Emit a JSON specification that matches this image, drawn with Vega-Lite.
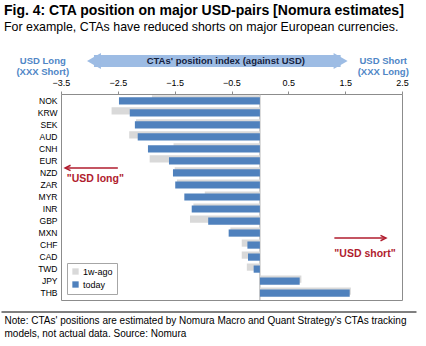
{
  "$schema": "https://vega.github.io/schema/vega-lite/v6.json",
  "padding": {"left": 0, "top": 3, "right": 5, "bottom": 0},
  "background": "white",
  "title": {
    "text": "Fig. 4: CTA position on major USD-pairs [Nomura estimates]",
    "subtitle": "For example, CTAs have reduced shorts on major European currencies.",
    "anchor": "start",
    "frame": "bounds",
    "dx": 3,
    "font": "Liberation Sans",
    "fontSize": 14,
    "fontWeight": "bold",
    "color": "#000000",
    "subtitleFont": "Liberation Sans",
    "subtitleFontSize": 12.4,
    "subtitleColor": "#000000",
    "subtitlePadding": 3,
    "offset": 18
  },
  "spacing": 0,
  "resolve": {"legend": {"color": "independent"}},
  "config": {"view": {"stroke": null}, "concat": {"spacing": 0}},
  "datasets": {
    "positions": [
      {"ccy": "NOK", "series": "1w-ago", "value": -1.90},
      {"ccy": "NOK", "series": "today", "value": -2.48},
      {"ccy": "KRW", "series": "1w-ago", "value": -2.61},
      {"ccy": "KRW", "series": "today", "value": -2.29},
      {"ccy": "SEK", "series": "1w-ago", "value": -2.18},
      {"ccy": "SEK", "series": "today", "value": -2.20},
      {"ccy": "AUD", "series": "1w-ago", "value": -2.30},
      {"ccy": "AUD", "series": "today", "value": -2.15},
      {"ccy": "CNH", "series": "1w-ago", "value": -1.52},
      {"ccy": "CNH", "series": "today", "value": -1.97},
      {"ccy": "EUR", "series": "1w-ago", "value": -1.94},
      {"ccy": "EUR", "series": "today", "value": -1.60},
      {"ccy": "NZD", "series": "1w-ago", "value": -1.50},
      {"ccy": "NZD", "series": "today", "value": -1.53},
      {"ccy": "ZAR", "series": "1w-ago", "value": -1.46},
      {"ccy": "ZAR", "series": "today", "value": -1.49},
      {"ccy": "MYR", "series": "1w-ago", "value": -0.97},
      {"ccy": "MYR", "series": "today", "value": -1.33},
      {"ccy": "INR", "series": "1w-ago", "value": -1.17},
      {"ccy": "INR", "series": "today", "value": -1.20},
      {"ccy": "GBP", "series": "1w-ago", "value": -1.23},
      {"ccy": "GBP", "series": "today", "value": -0.91},
      {"ccy": "MXN", "series": "1w-ago", "value": -0.52},
      {"ccy": "MXN", "series": "today", "value": -0.55},
      {"ccy": "CHF", "series": "1w-ago", "value": -0.32},
      {"ccy": "CHF", "series": "today", "value": -0.22},
      {"ccy": "CAD", "series": "1w-ago", "value": -0.32},
      {"ccy": "CAD", "series": "today", "value": -0.21},
      {"ccy": "TWD", "series": "1w-ago", "value": -0.23},
      {"ccy": "TWD", "series": "today", "value": -0.11},
      {"ccy": "JPY", "series": "1w-ago", "value": 0.73},
      {"ccy": "JPY", "series": "today", "value": 0.70},
      {"ccy": "THB", "series": "1w-ago", "value": 1.60},
      {"ccy": "THB", "series": "today", "value": 1.58}
    ]
  },
  "vconcat": [
    {
      "width": 341,
      "height": 20,
      "layer": [
        {
          "data": {"values": [{"value": -2.92, "value2": 1.42}]},
          "mark": {"type": "rule", "color": "#9dbce4", "strokeWidth": 12},
          "encoding": {
            "x": {"field": "value", "type": "quantitative", "title": null, "axis": null,
                  "scale": {"domain": [-3.5, 2.5], "nice": false, "zero": false}},
            "x2": {"field": "value2"}
          }
        },
        {
          "data": {"values": [{"value": -2.92}]},
          "mark": {"type": "point", "shape": "triangle-left", "filled": true, "color": "#9dbce4", "size": 260, "opacity": 1},
          "encoding": {"x": {"field": "value", "type": "quantitative", "title": null}}
        },
        {
          "data": {"values": [{"value": 1.42}]},
          "mark": {"type": "point", "shape": "triangle-right", "filled": true, "color": "#9dbce4", "size": 260, "opacity": 1},
          "encoding": {"x": {"field": "value", "type": "quantitative", "title": null}}
        },
        {
          "data": {"values": [{"value": -0.6, "label": "CTAs' position index (against USD)"}]},
          "mark": {"type": "text", "font": "Liberation Sans", "fontSize": 9.5, "fontWeight": "bold", "color": "#14213d", "align": "center", "baseline": "middle"},
          "encoding": {"x": {"field": "value", "type": "quantitative", "title": null}, "text": {"field": "label"}}
        },
        {
          "data": {"values": [
            {"value": -3.82, "label": "USD Long\n(XXX Short)"},
            {"value": 2.17, "label": "USD Short\n(XXX Long)"}
          ]},
          "mark": {"type": "text", "font": "Liberation Sans", "fontSize": 9.5, "fontWeight": "bold", "color": "#4f86c6", "align": "center", "baseline": "middle", "lineBreak": "\n", "lineHeight": 11},
          "encoding": {"x": {"field": "value", "type": "quantitative", "title": null}, "text": {"field": "label"}}
        }
      ]
    },
    {
      "width": 341,
      "height": 206,
      "view": {"stroke": "#8c8c8c"},
      "layer": [
        {
          "data": {"values": [{"value": 0}]},
          "mark": {"type": "rule", "color": "#a6a6a6", "strokeWidth": 1},
          "encoding": {"x": {"field": "value", "type": "quantitative", "title": null}}
        },
        {
          "data": {"name": "positions"},
          "transform": [{"filter": "datum.series === '1w-ago'"}],
          "mark": {"type": "bar", "yOffset": -2},
          "encoding": {
            "x": {"field": "value", "type": "quantitative", "title": null,
                  "scale": {"domain": [-3.5, 2.5], "nice": false, "zero": false},
                  "axis": {"orient": "top", "values": [-3.5, -2.5, -1.5, -0.5, 0.5, 1.5, 2.5], "format": ".1f",
                           "grid": false, "domain": false, "tickColor": "#8c8c8c", "tickSize": 3,
                           "labelPadding": 4, "labelFont": "Liberation Sans", "labelFontSize": 9, "labelColor": "#000000", "labelFlush": false}},
            "y": {"field": "ccy", "type": "nominal", "title": null,
                  "scale": {"domain": ["NOK","KRW","SEK","AUD","CNH","EUR","NZD","ZAR","MYR","INR","GBP","MXN","CHF","CAD","TWD","JPY","THB"], "paddingInner": 0.4, "paddingOuter": 0.27},
                  "axis": {"ticks": false, "domain": false, "labelPadding": 4, "labelFont": "Liberation Sans", "labelFontSize": 8.5, "labelColor": "#000000"}},
            "color": {"field": "series", "type": "nominal", "title": null,
                      "scale": {"domain": ["1w-ago", "today"], "range": ["#d9d9d9", "#4f81bd"]},
                      "legend": {"orient": "bottom-left", "offset": 6, "title": null, "symbolType": "square", "symbolSize": 40,
                                 "fillColor": "white", "strokeColor": "#a6a6a6", "padding": 4, "rowPadding": 3,
                                 "labelFont": "Liberation Sans", "labelFontSize": 9, "labelColor": "#000000", "labelOffset": 3}}
          }
        },
        {
          "data": {"name": "positions"},
          "transform": [{"filter": "datum.series === 'today'"}],
          "mark": {"type": "bar"},
          "encoding": {
            "x": {"field": "value", "type": "quantitative", "title": null},
            "y": {"field": "ccy", "type": "nominal", "title": null},
            "color": {"field": "series", "type": "nominal", "title": null}
          }
        },
        {
          "data": {"values": [{"value": -3.40, "value2": -2.50, "ccy": "NZD"}]},
          "mark": {"type": "rule", "color": "#b01c2e", "strokeWidth": 1.5, "yOffset": -5},
          "encoding": {
            "x": {"field": "value", "type": "quantitative", "title": null},
            "x2": {"field": "value2"},
            "y": {"field": "ccy", "type": "nominal", "title": null}
          }
        },
        {
          "data": {"values": [{"value": -3.38, "ccy": "NZD"}]},
          "mark": {"type": "point", "shape": "M1,-1L-1,0L1,1", "filled": false, "color": "#b01c2e", "strokeWidth": 1.5, "size": 30, "opacity": 1, "yOffset": -5},
          "encoding": {
            "x": {"field": "value", "type": "quantitative", "title": null},
            "y": {"field": "ccy", "type": "nominal", "title": null}
          }
        },
        {
          "data": {"values": [{"value": -3.40, "ccy": "NZD", "label": "\"USD long\""}]},
          "mark": {"type": "text", "font": "Liberation Sans", "fontSize": 10.5, "fontWeight": "bold", "color": "#b01c2e", "align": "left", "baseline": "middle", "yOffset": 6},
          "encoding": {
            "x": {"field": "value", "type": "quantitative", "title": null},
            "y": {"field": "ccy", "type": "nominal", "title": null},
            "text": {"field": "label"}
          }
        },
        {
          "data": {"values": [{"value": 1.31, "value2": 2.19, "ccy": "MXN"}]},
          "mark": {"type": "rule", "color": "#b01c2e", "strokeWidth": 1.5, "yOffset": 5},
          "encoding": {
            "x": {"field": "value", "type": "quantitative", "title": null},
            "x2": {"field": "value2"},
            "y": {"field": "ccy", "type": "nominal", "title": null}
          }
        },
        {
          "data": {"values": [{"value": 2.17, "ccy": "MXN"}]},
          "mark": {"type": "point", "shape": "M-1,-1L1,0L-1,1", "filled": false, "color": "#b01c2e", "strokeWidth": 1.5, "size": 30, "opacity": 1, "yOffset": 5},
          "encoding": {
            "x": {"field": "value", "type": "quantitative", "title": null},
            "y": {"field": "ccy", "type": "nominal", "title": null}
          }
        },
        {
          "data": {"values": [{"value": 1.31, "ccy": "CAD", "label": "\"USD short\""}]},
          "mark": {"type": "text", "font": "Liberation Sans", "fontSize": 10.5, "fontWeight": "bold", "color": "#b01c2e", "align": "left", "baseline": "middle", "yOffset": -3},
          "encoding": {
            "x": {"field": "value", "type": "quantitative", "title": null},
            "y": {"field": "ccy", "type": "nominal", "title": null},
            "text": {"field": "label"}
          }
        }
      ]
    },
    {
      "width": 341,
      "height": 22,
      "layer": [
        {
          "data": {"values": [{"value": -4.547, "value2": 2.755}]},
          "mark": {"type": "rule", "color": "#000000", "strokeWidth": 1},
          "encoding": {
            "x": {"field": "value", "type": "quantitative", "title": null, "axis": null,
                  "scale": {"domain": [-3.5, 2.5], "nice": false, "zero": false}},
            "x2": {"field": "value2"}
          }
        },
        {
          "data": {"values": [{"value": -4.494, "label": "Note: CTAs' positions are estimated by Nomura Macro and Quant Strategy's CTAs tracking\nmodels, not actual data. Source: Nomura"}]},
          "mark": {"type": "text", "font": "Liberation Sans", "fontSize": 10, "color": "#000000", "align": "left", "baseline": "top", "lineBreak": "\n", "lineHeight": 13, "dy": 4},
          "encoding": {"x": {"field": "value", "type": "quantitative", "title": null}, "text": {"field": "label"}}
        }
      ]
    }
  ]
}
